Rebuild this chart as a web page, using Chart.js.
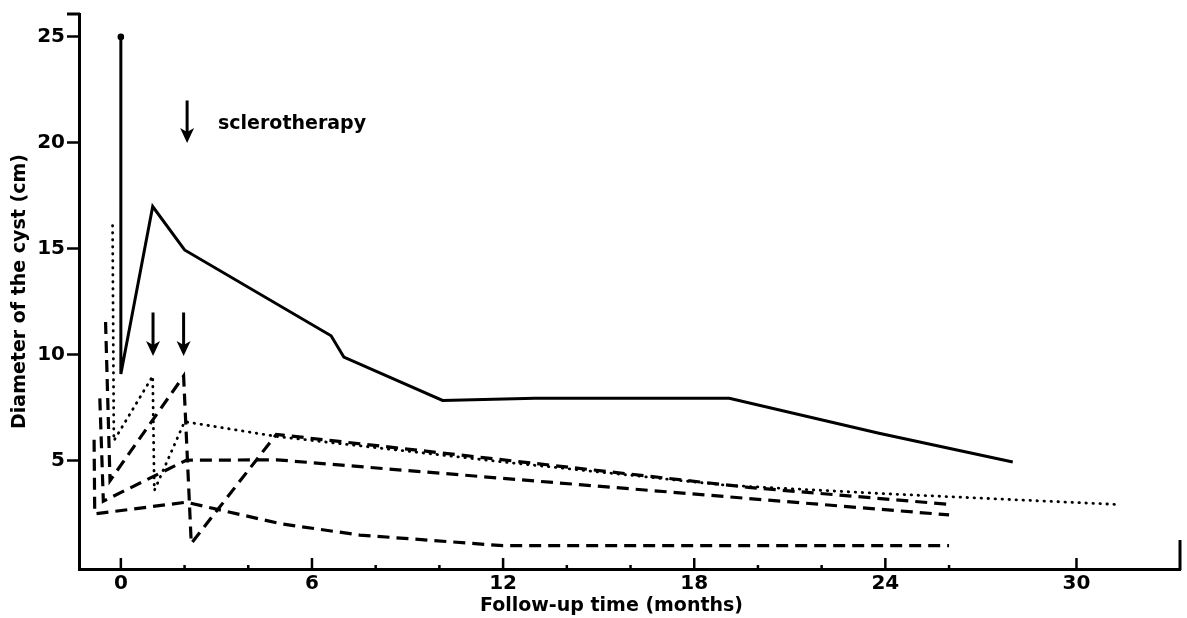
<!DOCTYPE html>
<html>
<head>
<meta charset="utf-8">
<title>Cyst diameter during follow-up</title>
<script src="https://cdn.jsdelivr.net/npm/chart.js@4/dist/chart.umd.min.js"></script>
<style>
  html, body { margin: 0; padding: 0; background: #fff; }
  #wrap { width: 1187px; height: 618px; }
</style>
</head>
<body>
<div id="wrap"><canvas id="cystChart" width="1187" height="618"></canvas></div>
<script>
// months of follow-up / diameter of the cyst (cm), one pair per patient
const solidMonths = [0, 0, 1, 2, 6.6, 7, 10.1, 13, 19.1, 23.8, 28];
const solidDiam   = [25, 9.1, 17, 14.95, 10.9, 9.9, 7.85, 7.95, 7.95, 6.3, 4.95];

const dottedMonths = [-0.26, -0.22, 1.0, 1.05, 2.0, 4.9, 12, 19, 24, 31.2];
const dottedDiam   = [16.1, 5.95, 9.0, 3.6, 6.85, 6.15, 4.95, 3.85, 3.45, 2.95];

const dashAMonths = [-0.48, -0.34, 1.97, 2.21, 4.88, 19.7, 26];
const dashADiam   = [11.55, 4.07, 9.0, 1.1, 6.25, 3.75, 2.95];

const dashBMonths = [-0.66, -0.55, 2.05, 4.9, 26];
const dashBDiam   = [7.95, 3.1, 5.03, 5.05, 2.45];

const dashCMonths = [-0.84, -0.82, 2.05, 5.0, 7.5, 12, 26];
const dashCDiam   = [6.0, 2.5, 3.05, 2.04, 1.5, 1.0, 1.0];

// axis ticks
const xTickMonths  = [0, 6, 12, 18, 24, 30];
const xMinorMonths = [2, 4, 8, 10, 14, 16, 20, 22, 26];
const yTickValues  = [5, 10, 15, 20, 25];

// sclerotherapy arrows: month, top and tip (cm)
const arrowMonths = [2.08, 1.01, 1.97];
const arrowFrom   = [22.0, 12.0, 12.0];
const arrowTo     = [20.0, 9.95, 9.95];
const noteText = 'sclerotherapy';
const noteMonth = 3.05;
const noteDiam = 20.9;

const TICK_FONT = { family: 'DejaVu Sans', weight: 'bold', size: 20 };
const TEXT_FONT = { family: 'DejaVu Sans', weight: 'bold', size: 19 };

function series(months, diam, style) {
    return {
        data: months.map((m, i) => ({ x: m, y: diam[i] })),
        borderColor: '#000',
        backgroundColor: '#000',
        fill: false,
        tension: 0,
        pointRadius: 0,
        ...style
    };
}

const solidStyle  = { borderWidth: 3, pointRadius: ctx => ctx.dataIndex === 0 ? 1.8 : 0 };
const dottedStyle = { borderWidth: 2.8, borderDash: [0.5, 6.5], borderCapStyle: 'round' };
const dashedStyle = { borderWidth: 3.2, borderDash: [12, 7] };

// arrows, the note, inward x ticks and axis end caps
const extras = {
    id: 'extras',
    afterDraw(chart) {
        const { ctx, chartArea, scales: { x, y } } = chart;
        ctx.save();
        ctx.strokeStyle = '#000';
        ctx.fillStyle = '#000';

        // x ticks point up into the plot
        ctx.lineWidth = 2.5;
        const base = y.getPixelForValue(y.min);
        xTickMonths.forEach(m => {
            const px = x.getPixelForValue(m);
            ctx.beginPath(); ctx.moveTo(px, base); ctx.lineTo(px, base - 11); ctx.stroke();
        });
        xMinorMonths.forEach(m => {
            const px = x.getPixelForValue(m);
            ctx.beginPath(); ctx.moveTo(px, base); ctx.lineTo(px, base - 4); ctx.stroke();
        });

        // end caps of the axes
        ctx.lineWidth = 3;
        ctx.beginPath(); ctx.moveTo(chartArea.left - 12, chartArea.top); ctx.lineTo(chartArea.left + 1, chartArea.top); ctx.stroke();
        ctx.beginPath(); ctx.moveTo(chartArea.right, chartArea.bottom + 1); ctx.lineTo(chartArea.right, chartArea.bottom - 29); ctx.stroke();

        // arrows
        arrowMonths.forEach((m, i) => {
            const px = x.getPixelForValue(m);
            const top = y.getPixelForValue(arrowFrom[i]);
            const tip = y.getPixelForValue(arrowTo[i]);
            ctx.lineWidth = 3;
            ctx.beginPath(); ctx.moveTo(px, top); ctx.lineTo(px, tip - 10); ctx.stroke();
            ctx.beginPath();
            ctx.moveTo(px, tip);
            ctx.lineTo(px - 7, tip - 15);
            ctx.lineTo(px, tip - 11);
            ctx.lineTo(px + 7, tip - 15);
            ctx.closePath();
            ctx.fill();
        });

        ctx.font = `${TEXT_FONT.weight} ${TEXT_FONT.size}px "${TEXT_FONT.family}"`;
        ctx.textBaseline = 'middle';
        ctx.textAlign = 'left';
        ctx.fillText(noteText, x.getPixelForValue(noteMonth), y.getPixelForValue(noteDiam));

        // x axis title, a little left of the plot centre as in the figure
        ctx.textAlign = 'center';
        ctx.fillText('Follow-up time (months)', (chartArea.left + chartArea.right) / 2 - 18, 606);
        ctx.restore();
    }
};

new Chart(document.getElementById('cystChart'), {
    type: 'line',
    data: {
        datasets: [
            series(solidMonths, solidDiam, solidStyle),
            series(dottedMonths, dottedDiam, dottedStyle),
            series(dashAMonths, dashADiam, dashedStyle),
            series(dashBMonths, dashBDiam, dashedStyle),
            series(dashCMonths, dashCDiam, dashedStyle)
        ]
    },
    options: {
        responsive: false,
        animation: false,
        devicePixelRatio: 1,
        layout: { padding: { top: 9.5, right: 3, left: 0, bottom: 0 } },
        plugins: { legend: { display: false }, tooltip: { enabled: false } },
        scales: {
            x: {
                type: 'linear',
                min: -1.314,
                max: 33.25,
                afterBuildTicks: s => { s.ticks = xTickMonths.map(v => ({ value: v })); },
                afterFit: s => { s.height = 49; },
                grid: { display: false, drawTicks: false },
                border: { display: true, color: '#000', width: 3 },
                ticks: { color: '#000', font: TICK_FONT, padding: 3, maxRotation: 0, autoSkip: false }
            },
            y: {
                type: 'linear',
                min: -0.1,
                max: 26.08,
                afterBuildTicks: s => { s.ticks = yTickValues.map(v => ({ value: v })); },
                afterFit: s => { s.width = 79; },
                grid: { display: true, drawOnChartArea: false, drawTicks: true, tickLength: 12, tickWidth: 2.5, tickColor: '#000', color: '#000' },
                border: { display: true, color: '#000', width: 3 },
                ticks: { color: '#000', font: TICK_FONT, padding: 2 },
                title: { display: true, text: 'Diameter of the cyst (cm)', color: '#000', font: TEXT_FONT, padding: { top: 9, bottom: 0 } }
            }
        }
    },
    plugins: [extras]
});
</script>
</body>
</html>
